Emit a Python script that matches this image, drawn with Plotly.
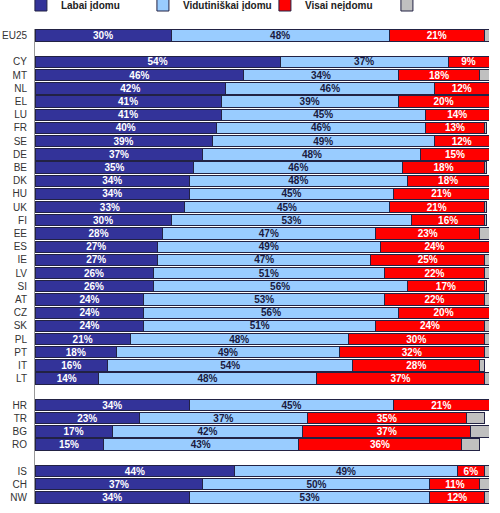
import plotly.graph_objects as go

# =========================
# DATA
# =========================
countries = ["EU25", " ",
             "CY", "MT", "NL", "EL", "LU", "FR", "SE", "DE", "BE", "DK", "HU", "UK", "FI",
             "EE", "ES", "IE", "LV", "SI", "AT", "CZ", "SK", "PL", "PT", "IT", "LT", "  ",
             "HR", "TR", "BG", "RO", "   ",
             "IS", "CH", "NW"]

labai = [30, None,
         54, 46, 42, 41, 41, 40, 39, 37, 35, 34, 34, 33, 30,
         28, 27, 27, 26, 26, 24, 24, 24, 21, 18, 16, 14, None,
         34, 23, 17, 15, None,
         44, 37, 34]

vidutiniskai = [48, None,
                37, 34, 46, 39, 45, 46, 49, 48, 46, 48, 45, 45, 53,
                47, 49, 47, 51, 56, 53, 56, 51, 48, 49, 54, 48, None,
                45, 37, 42, 43, None,
                49, 50, 53]

visai = [21, None,
         9, 18, 12, 20, 14, 13, 12, 15, 18, 18, 21, 21, 16,
         23, 24, 25, 22, 17, 22, 20, 24, 30, 32, 28, 37, None,
         21, 35, 37, 36, None,
         6, 11, 12]

nezino = [1, None,
          1, 2, 0, 0, 0, 0.5, 0, 0, 0.5, 0, 0, 0.5, 0.5,
          2, 0.5, 1, 1, 0.5, 2, 0, 1, 1, 1, 1, 1, None,
          0, 4, 4, 4, None,
          1, 2, 1]

series = [
    ("Labai įdomu", labai, "#333399", "white"),
    ("Vidutiniškai įdomu", vidutiniskai, "#99CCFF", "#1a1a40"),
    ("Visai neįdomu", visai, "#FF0000", "white"),
    (" ", nezino, "#C0C0C0", "white"),
]

# =========================
# FIGURE
# =========================
fig = go.Figure()

for name, vals, color, tcolor in series:
    show_text = name.strip() != ""
    fig.add_trace(go.Bar(
        y=countries,
        x=vals,
        name=name,
        orientation="h",
        marker=dict(color=color, line=dict(color="#222244", width=1)),
        texttemplate="%{x}%" if show_text else None,
        textposition="inside" if show_text else "none",
        insidetextanchor="middle",
        textangle=0,
        constraintext="none",
        textfont=dict(family="Arial, Liberation Sans", size=10, color=tcolor, weight="bold"),
        hoverinfo="skip",
    ))

fig.update_layout(
    barmode="stack",
    bargap=0.14,
    width=500,
    height=513,
    margin=dict(l=35, r=11, t=29, b=9, autoexpand=False),
    paper_bgcolor="white",
    plot_bgcolor="white",
    font=dict(family="Arial, Liberation Sans", size=10, color="#333333"),
    uniformtext=dict(minsize=9, mode="show"),
    legend=dict(
        orientation="h",
        traceorder="normal",
        x=-0.031, xanchor="left",
        y=1.02, yanchor="bottom",
        entrywidth=77,
        entrywidthmode="pixels",
        itemclick=False,
        font=dict(family="Arial, Liberation Sans", size=10, color="#222222", weight="bold"),
    ),
    xaxis=dict(
        range=[0, 100],
        showgrid=False,
        showticklabels=False,
        zeroline=False,
        ticks="",
        fixedrange=True,
    ),
    yaxis=dict(
        type="category",
        categoryorder="array",
        categoryarray=countries,
        autorange="reversed",
        showgrid=False,
        showline=True,
        linecolor="#999999",
        linewidth=1,
        ticks="",
        ticklabelstandoff=5,
        tickfont=dict(size=10, color="#333333"),
        fixedrange=True,
    ),
)

# drop the default 8px body margin so the figure fills the window
fig.write_html(
    "out.html",
    config={"displayModeBar": False},
    post_script="document.body.style.margin='0';",
)
